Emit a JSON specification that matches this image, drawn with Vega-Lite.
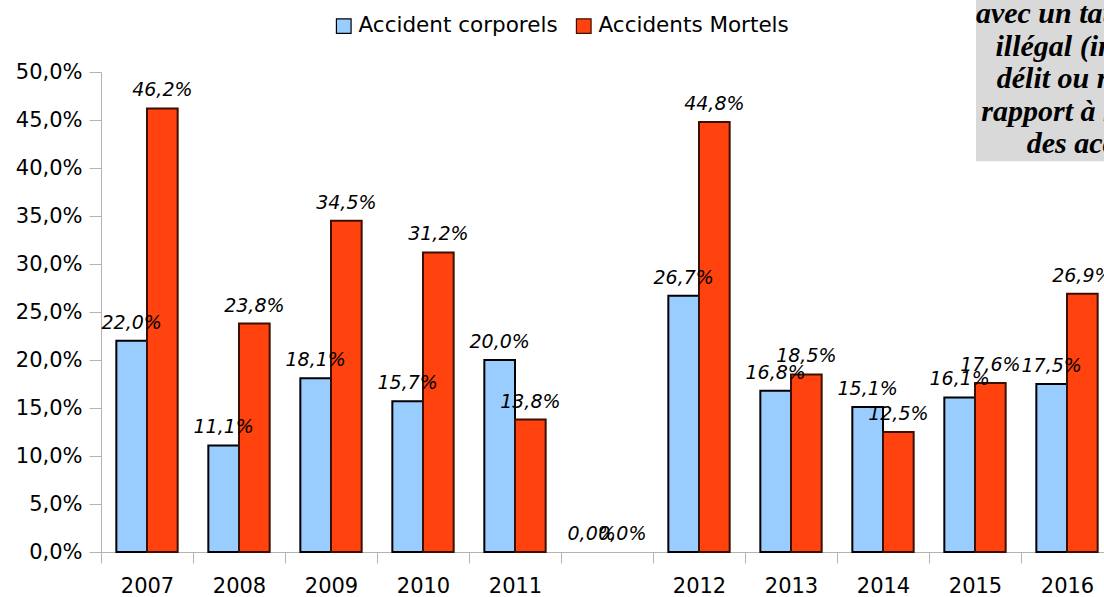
{
  "$schema": "https://vega.github.io/schema/vega-lite/v6.json",
  "width": 1003,
  "height": 480,
  "autosize": "none",
  "padding": {"left": 101, "top": 72, "right": 0, "bottom": 45},
  "background": "white",
  "config": {
    "view": {"stroke": null},
    "font": "DejaVu Sans",
    "locale": {"number": {"decimal": ",", "thousands": " ", "grouping": [3], "currency": ["", " €"]}}
  },
  "data": {
    "values": [
      {"year": "2007", "series": "Accident corporels", "value": 0.220},
      {"year": "2007", "series": "Accidents Mortels", "value": 0.462},
      {"year": "2008", "series": "Accident corporels", "value": 0.111},
      {"year": "2008", "series": "Accidents Mortels", "value": 0.238},
      {"year": "2009", "series": "Accident corporels", "value": 0.181},
      {"year": "2009", "series": "Accidents Mortels", "value": 0.345},
      {"year": "2010", "series": "Accident corporels", "value": 0.157},
      {"year": "2010", "series": "Accidents Mortels", "value": 0.312},
      {"year": "2011", "series": "Accident corporels", "value": 0.200},
      {"year": "2011", "series": "Accidents Mortels", "value": 0.138},
      {"year": " ", "series": "Accident corporels", "value": 0.0},
      {"year": " ", "series": "Accidents Mortels", "value": 0.0},
      {"year": "2012", "series": "Accident corporels", "value": 0.267},
      {"year": "2012", "series": "Accidents Mortels", "value": 0.448},
      {"year": "2013", "series": "Accident corporels", "value": 0.168},
      {"year": "2013", "series": "Accidents Mortels", "value": 0.185},
      {"year": "2014", "series": "Accident corporels", "value": 0.151},
      {"year": "2014", "series": "Accidents Mortels", "value": 0.125},
      {"year": "2015", "series": "Accident corporels", "value": 0.161},
      {"year": "2015", "series": "Accidents Mortels", "value": 0.176},
      {"year": "2016", "series": "Accident corporels", "value": 0.175},
      {"year": "2016", "series": "Accidents Mortels", "value": 0.269}
    ]
  },
  "layer": [
    {
      "encoding": {
        "x": {
          "field": "year",
          "type": "nominal",
          "scale": {
            "domain": ["2007", "2008", "2009", "2010", "2011", " ", "2012", "2013", "2014", "2015", "2016"],
            "range": [0, 1012],
            "paddingInner": 0,
            "paddingOuter": 0
          },
          "axis": {
            "title": null,
            "labelAngle": 0,
            "labelFont": "DejaVu Sans",
            "labelFontSize": 21,
            "labelColor": "#000000",
            "labelPadding": 12,
            "tickBand": "extent",
            "tickSize": 11,
            "tickColor": "#b3b3b3",
            "domainColor": "#b3b3b3",
            "grid": false
          }
        },
        "xOffset": {
          "field": "series",
          "type": "nominal",
          "scale": {"paddingInner": 0, "paddingOuter": 0.5}
        },
        "y": {
          "field": "value",
          "type": "quantitative",
          "scale": {"domain": [0, 0.5], "nice": false},
          "axis": {
            "title": null,
            "format": ".1%",
            "values": [0, 0.05, 0.1, 0.15, 0.2, 0.25, 0.3, 0.35, 0.4, 0.45, 0.5],
            "labelFont": "DejaVu Sans",
            "labelFontSize": 21,
            "labelColor": "#000000",
            "labelPadding": 7,
            "tickSize": 12,
            "tickColor": "#b3b3b3",
            "domainColor": "#b3b3b3",
            "grid": false
          }
        }
      },
      "layer": [
        {
          "mark": {"type": "bar"},
          "encoding": {
            "color": {
              "field": "series",
              "type": "nominal",
              "scale": {"domain": ["Accident corporels", "Accidents Mortels"], "range": ["#99ccff", "#ff420e"]},
              "legend": {
                "title": null,
                "orient": "none",
                "direction": "horizontal",
                "legendX": 232,
                "legendY": -57,
                "symbolType": "square",
                "symbolSize": 215,
                "symbolStrokeColor": "#000000",
                "symbolStrokeWidth": 1.2,
                "symbolOpacity": 1,
                "labelFont": "DejaVu Sans",
                "labelFontSize": 21.5,
                "labelColor": "#000000",
                "labelOffset": 4,
                "labelLimit": 0,
                "columnPadding": 15
              }
            },
            "stroke": {
              "field": "series",
              "type": "nominal",
              "scale": {"domain": ["Accident corporels", "Accidents Mortels"], "range": ["#000000", "#3b1000"]},
              "legend": null
            },
            "strokeWidth": {
              "condition": {"test": "datum.value == 0", "value": 0},
              "value": 2
            }
          }
        },
        {
          "mark": {"type": "text", "font": "DejaVu Sans", "fontStyle": "italic", "fontSize": 19, "baseline": "alphabetic", "dy": -12, "color": "#000000"},
          "encoding": {
            "text": {"field": "value", "type": "quantitative", "format": ".1%"}
          }
        }
      ]
    },
    {
      "data": {"values": [{}]},
      "mark": {"type": "bar", "width": 182, "fill": "#d9d9d9", "stroke": null},
      "encoding": {
        "x": {"datum": "2016", "type": "nominal"},
        "y": {"datum": 0.6, "type": "quantitative"},
        "y2": {"datum": 0.407}
      }
    },
    {
      "data": {"values": [{}]},
      "mark": {
        "type": "text",
        "text": ["avec un taux d'alcool", "illégal (infraction,", "délit ou refus) par", "rapport à l'ensemble", "des accidents"],
        "font": "Liberation Serif",
        "fontStyle": "italic",
        "fontWeight": "bold",
        "fontSize": 30,
        "lineHeight": 32.5,
        "align": "center",
        "baseline": "alphabetic",
        "dx": 41,
        "color": "#000000"
      },
      "encoding": {
        "x": {"datum": "2016", "type": "nominal"},
        "y": {"datum": 0.551, "type": "quantitative"}
      }
    }
  ]
}
